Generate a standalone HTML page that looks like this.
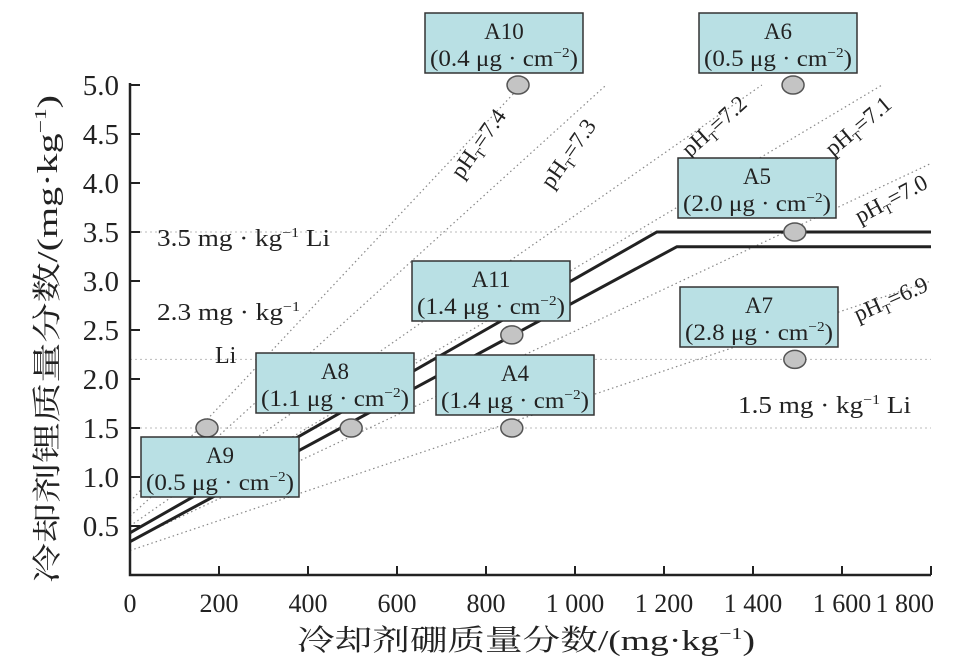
<!DOCTYPE html>
<html><head><meta charset="utf-8"><style>
body{margin:0;background:#fff;position:relative;width:970px;height:666px;overflow:hidden}
svg{display:block;font-family:"Liberation Serif","Noto Serif CJK SC",serif;}
</style></head><body>
<svg id="c" width="970" height="666" viewBox="0 0 970 666"></svg>
<script>
const xTicks=[0,200,400,600,800,1000,1200,1400,1600,1800];
const xTickLabels=["0","200","400","600","800","1 000","1 200","1 400","1 600","1 800"];
const yTicks=[0.5,1.0,1.5,2.0,2.5,3.0,3.5,4.0,4.5,5.0];
const yTickLabels=["0.5","1.0","1.5","2.0","2.5","3.0","3.5","4.0","4.5","5.0"];
const upperLineX=[0,1184,1800];
const upperLineY=[0.43,3.5,3.5];
const lowerLineX=[0,1229,1800];
const lowerLineY=[0.34,3.35,3.35];
const phNames=["7.4","7.3","7.2","7.1","7.0","6.9"];
const phStart=[0.75,0.6,0.5,0.42,0.35,0.25];
const phEndX=[880,1070,1420,1690,1800,1800];
const phEndY=[5.0,5.0,5.0,5.0,4.2,3.0];
const limitY=[3.5,2.2,1.5];
const ptNames=["A9","A8","A4","A11","A10","A6","A5","A7"];
const ptX=[173,497,858,858,872,1490,1494,1494];
const ptY=[1.5,1.5,1.5,2.45,5.0,5.0,3.5,2.2];
const ptDensity=["0.5","1.1","1.4","1.4","0.4","0.5","2.0","2.8"];

const X0=130,XS=(931-130)/1800,Y0=575,YS=98;
const sx=v=>X0+v*XS, sy=v=>Y0-v*YS;
const svg=document.getElementById('c');
const NS='http://www.w3.org/2000/svg';
function mk(t,a,p){const e=document.createElementNS(NS,t);for(const k in a)e.setAttribute(k,a[k]);(p||svg).appendChild(e);return e;}

limitY.forEach((v,i)=>{const l=mk('line',{x1:X0,x2:931,y1:sy(v),y2:sy(v),stroke:'#bbb','stroke-width':1,'stroke-dasharray':'2 3'});

});
const phAng=[-55,-55,-42,-40,-28,-24];
const phLab=[[462,180],[552,190],[690,158],[833,157],[860,224],[858,322]];
phNames.forEach((n,i)=>{const l=mk('line',{x1:sx(0),y1:sy(phStart[i]),x2:sx(phEndX[i]),y2:sy(phEndY[i]),stroke:'#888','stroke-width':1.2,'stroke-dasharray':'1.5 3'});


const t=mk('text',{x:phLab[i][0],y:phLab[i][1],'font-size':23,fill:'#222',transform:`rotate(${phAng[i]} ${phLab[i][0]} ${phLab[i][1]})`});
t.innerHTML='pH<tspan font-size="14" dy="5">T</tspan><tspan dy="-5">='+n+'</tspan>';

});
function poly(xs,ys,name){const p=mk('polyline',{points:xs.map((x,i)=>sx(x)+','+sy(ys[i])).join(' '),fill:'none',stroke:'#222','stroke-width':3});

}
poly(upperLineX,upperLineY,'upper-limit-line');
poly(lowerLineX,lowerLineY,'lower-limit-line');
ptNames.forEach((n,i)=>{const e=mk('ellipse',{cx:sx(ptX[i]),cy:sy(ptY[i]),rx:11,ry:9,fill:'#c4c4c4',stroke:'#555','stroke-width':1.5});

});
const boxPos={A10:[425,13],A6:[699,13],A5:[678,158],A11:[412,261],A8:[256,353],A4:[436,355],A7:[680,287],A9:[141,437]};
ptNames.forEach((n,i)=>{const [bx,by]=boxPos[n];const g=mk('g',{});


mk('rect',{x:bx,y:by,width:158,height:60,fill:'#b9e0e4',stroke:'#333','stroke-width':1.5},g);
const t1=mk('text',{x:bx+79,y:by+26,'text-anchor':'middle','font-size':23,fill:'#222'},g);t1.textContent=n;
const t2=mk('text',{x:bx+79,y:by+53,'text-anchor':'middle','font-size':23,fill:'#222','textLength':148,'lengthAdjust':'spacingAndGlyphs'},g);
t2.innerHTML='('+ptDensity[i]+' μg · cm<tspan font-size="14" dy="-9">−2</tspan><tspan dy="9">)</tspan>';});
const ax=mk('path',{d:`M${X0} 83 V${Y0} H931`,fill:'none',stroke:'#222','stroke-width':2.5});


xTicks.forEach((v,i)=>{mk('line',{x1:sx(v),x2:sx(v),y1:Y0,y2:Y0-9,stroke:'#222','stroke-width':2});
const last=i==xTicks.length-1;
const t=mk('text',{x:last?934:sx(v),y:612,'text-anchor':last?'end':'middle','font-size':26,fill:'#222'});t.textContent=xTickLabels[i];

});
yTicks.forEach((v,i)=>{mk('line',{x1:X0,x2:X0+10,y1:sy(v),y2:sy(v),stroke:'#222','stroke-width':2});
const t=mk('text',{x:119,y:sy(v)+10,'text-anchor':'end','font-size':29,fill:'#222'});t.textContent=yTickLabels[i];

});
</script>
<svg style="position:absolute;left:0;top:0" width="970" height="666">
<g font-family="Liberation Serif,Noto Serif CJK SC,serif" fill="#222">
<text x="526" y="650" text-anchor="middle" font-size="29" textLength="458" lengthAdjust="spacingAndGlyphs">冷却剂硼质量分数/(mg·kg<tspan font-size="17" dy="-11">−1</tspan><tspan dy="11">)</tspan></text>
<text transform="translate(57 339) rotate(-90)" text-anchor="middle" font-size="29" textLength="488" lengthAdjust="spacingAndGlyphs">冷却剂锂质量分数/(mg·kg<tspan font-size="17" dy="-11">−1</tspan><tspan dy="11">)</tspan></text>
<text x="157" y="246" font-size="24" textLength="173" lengthAdjust="spacingAndGlyphs">3.5 mg · kg<tspan font-size="14" dy="-9">−1</tspan><tspan dy="9"> Li</tspan></text>
<text x="157" y="320" font-size="24" textLength="143" lengthAdjust="spacingAndGlyphs">2.3 mg · kg<tspan font-size="14" dy="-9">−1</tspan></text>
<text x="215" y="363" font-size="24">Li</text>
<text x="738" y="413" font-size="24" textLength="173" lengthAdjust="spacingAndGlyphs">1.5 mg · kg<tspan font-size="14" dy="-9">−1</tspan><tspan dy="9"> Li</tspan></text>
</g></svg>
</body></html>
